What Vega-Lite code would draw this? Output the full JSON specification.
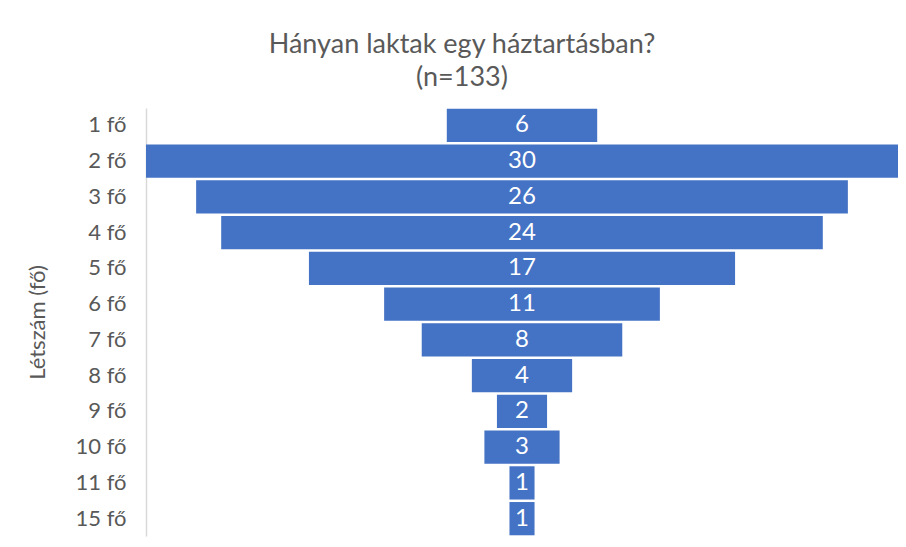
{
  "$schema": "https://vega.github.io/schema/vega-lite/v6.json",
  "width": 752,
  "height": 428,
  "autosize": "none",
  "padding": {"left": 146, "top": 108, "right": 8, "bottom": 11},
  "background": "white",
  "config": {
    "view": {"stroke": null},
    "font": "Lato"
  },
  "title": {
    "text": ["Hányan laktak egy háztartásban?", "(n=133)"],
    "frame": "bounds",
    "anchor": "middle",
    "fontSize": 27,
    "fontWeight": "normal",
    "color": "#595959",
    "lineHeight": 33,
    "offset": 16,
    "font": "Lato"
  },
  "data": {
    "values": [
      {"kat": "1 fő", "n": 6},
      {"kat": "2 fő", "n": 30},
      {"kat": "3 fő", "n": 26},
      {"kat": "4 fő", "n": 24},
      {"kat": "5 fő", "n": 17},
      {"kat": "6 fő", "n": 11},
      {"kat": "7 fő", "n": 8},
      {"kat": "8 fő", "n": 4},
      {"kat": "9 fő", "n": 2},
      {"kat": "10 fő", "n": 3},
      {"kat": "11 fő", "n": 1},
      {"kat": "15 fő", "n": 1}
    ]
  },
  "encoding": {
    "y": {
      "field": "kat",
      "type": "nominal",
      "sort": null,
      "scale": {"paddingInner": 0.07, "paddingOuter": 0.02},
      "axis": {
        "title": "Létszám (fő)",
        "titleFontSize": 22,
        "titleFontWeight": "normal",
        "titleColor": "#595959",
        "titlePadding": 26,
        "labelFontSize": 22,
        "labelColor": "#595959",
        "labelPadding": 20,
        "ticks": false,
        "domainColor": "#d9d9d9",
        "domainWidth": 1.5
      }
    }
  },
  "layer": [
    {
      "mark": {"type": "bar", "color": "#4472C4"},
      "encoding": {
        "x": {
          "field": "n",
          "type": "quantitative",
          "stack": "center",
          "scale": {"domain": [0, 30], "nice": false, "zero": true},
          "axis": null
        }
      }
    },
    {
      "mark": {"type": "text", "color": "white", "fontSize": 24, "baseline": "middle", "align": "center"},
      "encoding": {
        "x": {"datum": 15, "type": "quantitative"},
        "text": {"field": "n", "type": "quantitative"}
      }
    }
  ]
}
